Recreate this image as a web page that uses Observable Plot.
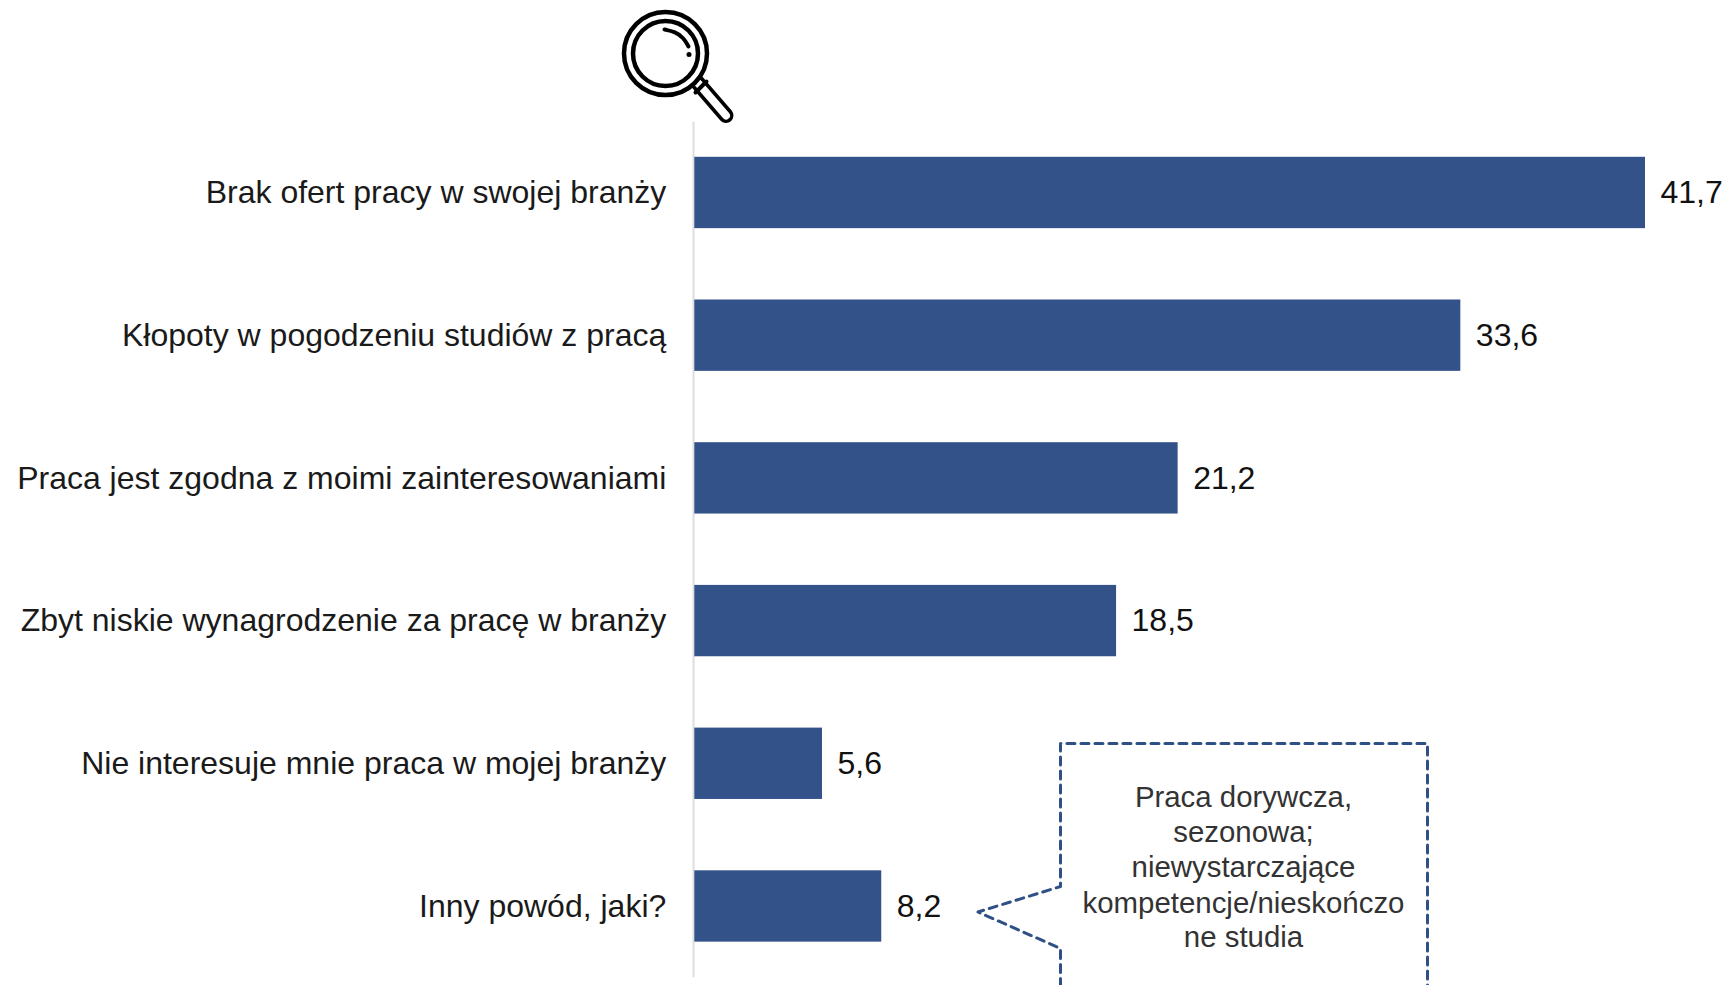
<!DOCTYPE html>
<html lang="pl">
<head>
<meta charset="utf-8">
<script src="https://cdn.jsdelivr.net/npm/d3@7"></script>
<script src="https://cdn.jsdelivr.net/npm/@observablehq/plot@0.6"></script>
<style>
html,body{margin:0;padding:0;background:#fff;overflow:hidden}
svg{display:block}
</style>
</head>
<body>
<div id="chart"></div>
<script>
const categories = [
  "Brak ofert pracy w swojej branży",
  "Kłopoty w pogodzeniu studiów z pracą",
  "Praca jest zgodna z moimi zainteresowaniami",
  "Zbyt niskie wynagrodzenie za pracę w branży",
  "Nie interesuje mnie praca w mojej branży",
  "Inny powód, jaki?"
];
const values = [41.7, 33.6, 21.2, 18.5, 5.6, 8.2];
const calloutLines = ["Praca dorywcza,", "sezonowa;", "niewystarczające", "kompetencje/nieskończo", "ne studia"];

const rows = categories.map((category, i) => ({category, value: values[i]}));
const comma = v => v.toFixed(1).replace(".", ",");
const FONT = "'Liberation Sans', Arial, sans-serif";
const px = value => ({value, scale: null});

// Band layout: step 142.7, band 71.35; annotations in page pixels cancel the band-centre shift.
const yRange = [85.45, 1013];
const bandHalf = (yRange[1] - yRange[0]) / 6.5 / 4;
const up = -bandHalf;

const calloutX = [1060, 1060, 977.5, 1060, 1060, 1427, 1427];
const calloutY = [1000, 948, 911.5, 886, 743, 743, 1000];
const lineY = [797, 832, 867, 903, 937];

const chart = Plot.plot({
  width: 1726, height: 985,
  marginLeft: 0, marginRight: 0, marginTop: 0, marginBottom: 0,
  style: {fontFamily: FONT, background: "#fff"},
  x: {domain: [0, 41.7], range: [694.3, 1645], axis: null},
  y: {domain: categories, range: yRange, padding: 0.5, round: false, axis: null},
  marks: [
    Plot.line([0, 1], {x: () => 0, y: px([122, 976]), dy: up, dx: -1.3, stroke: "#dedede", strokeWidth: 2}),
    Plot.barX(rows, {x: "value", y: "category", fill: "#335289"}),
    Plot.text(rows, {x: 0, y: "category", text: "category", textAnchor: "end", dx: -28.5,
      fontSize: 32, fill: "#1a1a1a"}),
    Plot.text(rows, {x: "value", y: "category", text: d => comma(d.value), textAnchor: "start", dx: 15,
      fontSize: 32, fill: "#111"}),
    Plot.line(calloutX, {x: px(calloutX), y: px(calloutY), dy: up, stroke: "#2f5087", strokeWidth: 3,
      strokeDasharray: "8,6", fill: "none"}),
    Plot.text(calloutLines, {x: px(calloutLines.map(() => 1243)), y: px(lineY), dy: up, text: d => d,
      fontSize: 29.4, fill: "#333"}),
    // magnifying glass icon
    Plot.line([0, 1], {x: px([697, 725.5]), y: px([82, 115]), dy: up, stroke: "#000", strokeWidth: 15, strokeLinecap: "round"}),
    Plot.line([0, 1], {x: px([697, 725.5]), y: px([82, 115]), dy: up, stroke: "#fff", strokeWidth: 8, strokeLinecap: "round"}),
    Plot.line([0, 1], {x: px([695, 706]), y: px([92, 81]), dy: up, stroke: "#000", strokeWidth: 4}),
    Plot.dot([0], {x: px([665]), y: px([53]), dy: up, r: 41.5, stroke: "#000", strokeWidth: 4.5, fill: "#fff"}),
    Plot.dot([0], {x: px([665]), y: px([53]), dy: up, r: 32.5, stroke: "#000", strokeWidth: 4.5, fill: "#fff"}),
    Plot.line([0, 1, 2, 3], {x: px([664, 674, 683, 688]), y: px([29, 31, 37, 46]), dy: up, stroke: "#000", strokeWidth: 4,
      strokeLinecap: "round", curve: "basis"}),
    Plot.dot([0], {x: px([688.5]), y: px([54]), dy: up, r: 2.5, fill: "#000"})
  ]
});
document.getElementById("chart").appendChild(chart);
</script>
</body>
</html>
